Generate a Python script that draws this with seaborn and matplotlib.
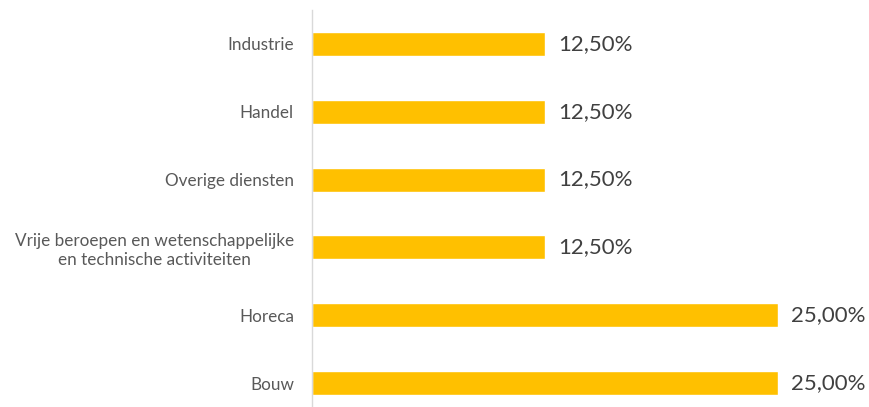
import matplotlib
matplotlib.use("Agg")
import matplotlib.pyplot as plt
import seaborn as sns
import pandas as pd

categories = ["Industrie", "Handel", "Overige diensten",
              "Vrije beroepen en wetenschappelijke\nen technische activiteiten",
              "Horeca", "Bouw"]
values = [0.125, 0.125, 0.125, 0.125, 0.25, 0.25]
value_labels = ["12,50%", "12,50%", "12,50%", "12,50%", "25,00%", "25,00%"]

sns.set_theme(style="white")
plt.rcParams['font.family'] = ['Lato', 'DejaVu Sans']

df = pd.DataFrame({"cat": categories, "val": values})

W, H = 870, 407
fig = plt.figure(figsize=(W / 100, H / 100), dpi=100)
ax = fig.add_axes([312 / W, -10 / H, 466 / W, 407 / H])

sns.barplot(data=df, y="cat", x="val", order=categories, color="#FFC000",
            width=0.354, saturation=1, ax=ax)
ax.set_xlim(0, 0.25)
ax.set_ylim(len(categories) - 0.5, -0.5)

for i, (v, lab) in enumerate(zip(values, value_labels)):
    ax.annotate(lab, (v, i), xytext=(13, 0), textcoords="offset pixels",
                va="center", ha="left", fontsize=16, color="#404040",
                annotation_clip=False)

ax.set_xlabel("")
ax.set_ylabel("")
ax.set_xticks([])
ax.tick_params(axis="y", length=0, pad=13, labelsize=12.3, labelcolor="#595959")
for lbl in ax.get_yticklabels():
    lbl.set_multialignment("center")
for s in ["top", "right", "bottom"]:
    ax.spines[s].set_visible(False)
ax.spines["left"].set_color("#D9D9D9")
ax.spines["left"].set_linewidth(1)

fig.savefig("out.png", dpi=100)
